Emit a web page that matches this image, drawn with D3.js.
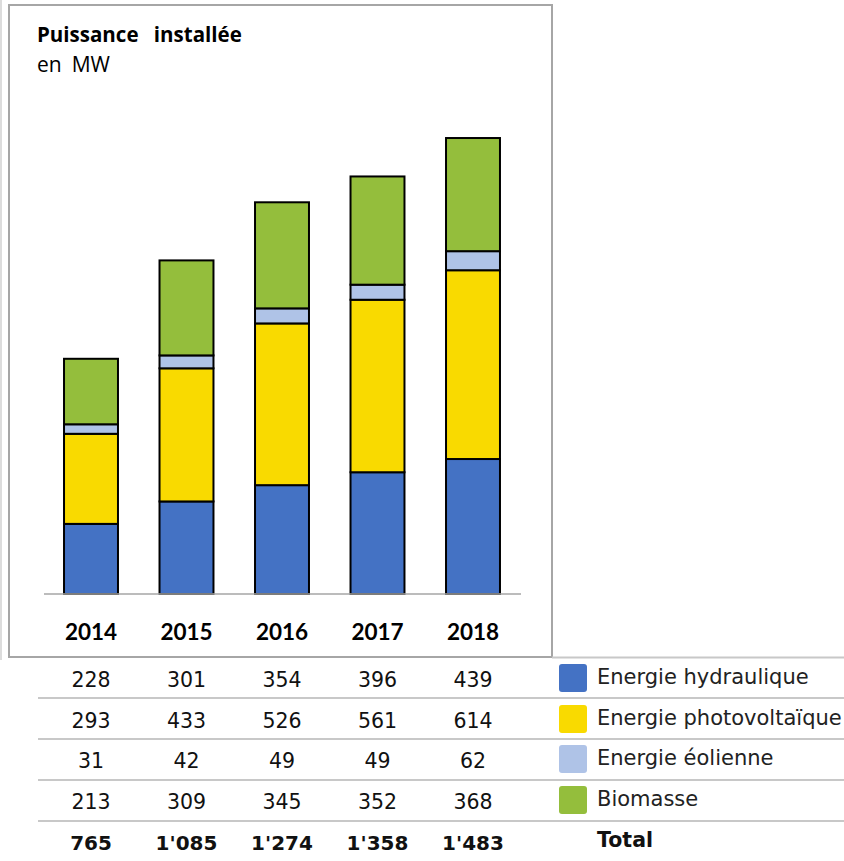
<!DOCTYPE html>
<html><head><meta charset="utf-8">
<script src="https://cdn.jsdelivr.net/npm/d3@7"></script>
<style>body{margin:0;background:#fff}svg{display:block}</style>
</head><body>
<script>
const years = ["2014","2015","2016","2017","2018"];
const seriesNames = ["Energie hydraulique","Energie photovoltaïque","Energie éolienne","Biomasse"];
const hydro = [228,301,354,396,439];
const solar = [293,433,526,561,614];
const wind = [31,42,49,49,62];
const biomass = [213,309,345,352,368];
const totals = ["765","1'085","1'274","1'358","1'483"];
const colors = ["#4472C4","#F9DA00","#AFC3E7","#94BE3C"];
const title = "Puissance installée";
const subtitle = "en MW";

const W=844,H=861;
const svg=d3.select("body").append("svg").attr("width",W).attr("height",H);

const series=[hydro,solar,wind,biomass];
const rows=years.map((y,i)=>{const o={year:y};seriesNames.forEach((s,j)=>o[s]=series[j][i]);return o;});
const stacked=d3.stack().keys(seriesNames)(rows);

const x=d3.scaleBand().domain(years).range([43.25,520.75]).paddingInner(0.435).paddingOuter(0.2175);
const y=d3.scaleLinear().domain([0,1500]).range([594,132.8]);

// frame
svg.append("rect").attr("x",9).attr("y",5).attr("width",543).attr("height",652)
  .attr("fill","none").attr("stroke","#a6a6a6").attr("stroke-width",2);
svg.append("line").attr("x1",1).attr("x2",1).attr("y1",0).attr("y2",660).attr("stroke","#d0d0d0").attr("stroke-width",1.5);

svg.append("text").attr("x",37).attr("y",41.5).text(title)
  .attr("font-family","Open Sans").attr("font-weight","bold").attr("font-size",20.5).attr("fill","#000").attr("word-spacing",10);
svg.append("text").attr("x",37).attr("y",71.5).text(subtitle)
  .attr("font-family","Open Sans").attr("font-size",21).attr("fill","#000").attr("word-spacing",4.5);

// bars
const g=svg.append("g");
g.selectAll("g.s").data(stacked).join("g").attr("fill",(d,i)=>colors[i])
 .selectAll("rect").data(d=>d).join("rect")
 .attr("x",d=>x(d.data.year)).attr("width",x.bandwidth())
 .attr("y",d=>y(d[1])).attr("height",d=>y(d[0])-y(d[1]))
 .attr("stroke","#000").attr("stroke-width",2);

// axis
const ax=svg.append("g").attr("transform","translate(0,594)").call(d3.axisBottom(x).tickSize(0).tickPadding(0));
ax.select(".domain").attr("stroke","#a6a6a6").attr("stroke-width",1.5).attr("d","M44,0H521");
ax.selectAll(".tick text").attr("dy",null).attr("y",46)
  .attr("font-family","Lato").attr("font-weight","bold").attr("font-size",22.5).attr("fill","#000");

// table lines
svg.append("line").attr("x1",552).attr("x2",844).attr("y1",657.5).attr("y2",657.5).attr("stroke","#c8c8c8").attr("stroke-width",2);
const rowY=[687,728,768,809,850];
[698,739,780,821].forEach(ly=>svg.append("line").attr("x1",38).attr("x2",844).attr("y1",ly).attr("y2",ly).attr("stroke","#c8c8c8").attr("stroke-width",2));

const cx=d=>x(d)+x.bandwidth()/2;
series.forEach((s,j)=>{
  svg.append("g").selectAll("text").data(s).join("text")
   .attr("x",(d,i)=>cx(years[i])).attr("y",rowY[j]).attr("text-anchor","middle")
   .attr("font-family","DejaVu Sans").attr("font-size",20.5).attr("fill","#111").text(d=>d);
});
svg.append("g").selectAll("text").data(totals).join("text")
  .attr("x",(d,i)=>cx(years[i])).attr("y",rowY[4]).attr("text-anchor","middle")
  .attr("font-family","DejaVu Sans").attr("font-weight","bold").attr("font-size",20).attr("fill","#111").text(d=>d);

// legend
seriesNames.forEach((n,j)=>{
  svg.append("rect").attr("x",559).attr("y",rowY[j]-23).attr("width",28).attr("height",28).attr("rx",3).attr("fill",colors[j]);
  svg.append("text").attr("x",597).attr("y",rowY[j]-3).text(n)
   .attr("font-family","DejaVu Sans").attr("font-size",21).attr("fill","#222");
});
svg.append("text").attr("x",597).attr("y",rowY[4]-3).text("Total")
  .attr("font-family","DejaVu Sans").attr("font-weight","bold").attr("font-size",20.5).attr("fill","#111");
</script>
</body></html>
